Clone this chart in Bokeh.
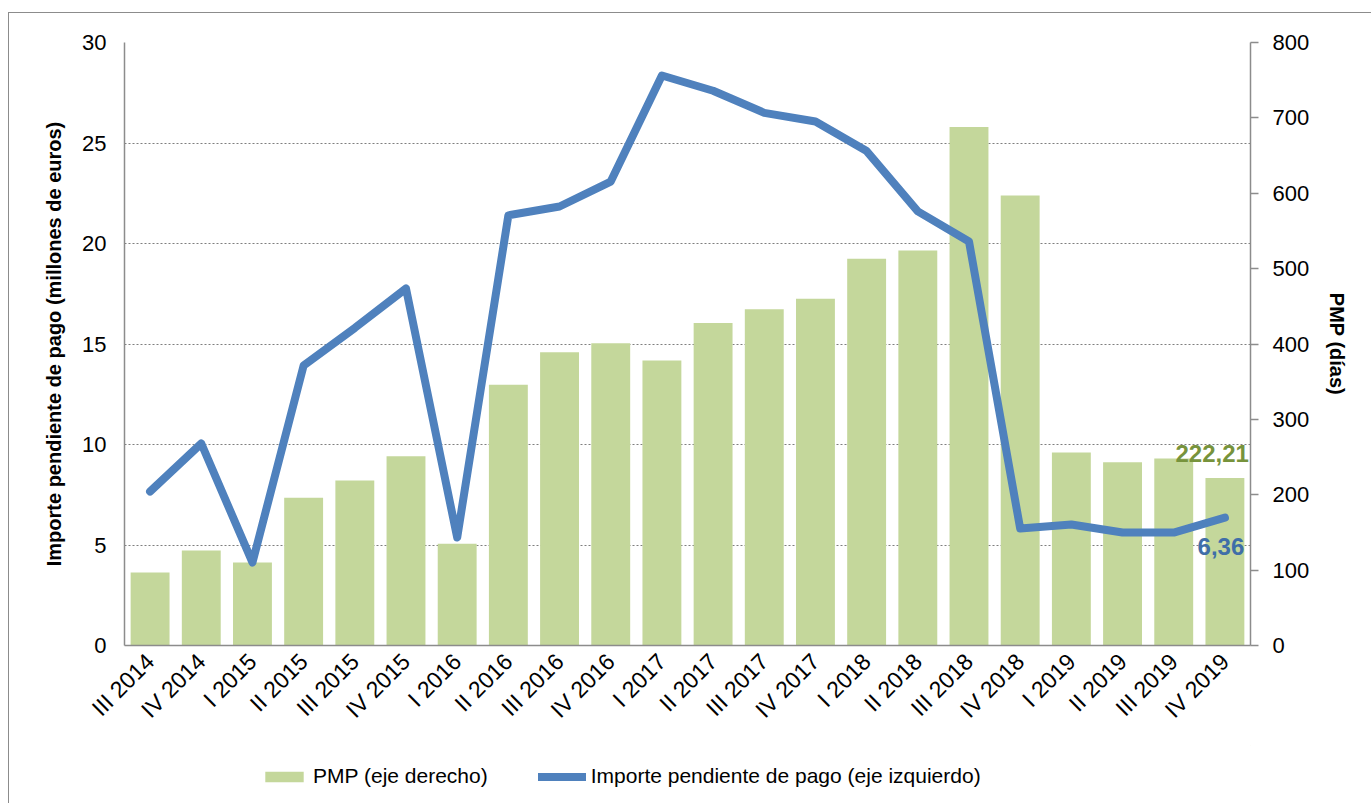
import math
from bokeh.plotting import figure
from bokeh.layouts import column
from bokeh.models import (Range1d, LinearAxis, FactorRange, Legend, LegendItem,
                          ColumnDataSource, FixedTicker)
from bokeh.core.properties import value
from bokeh.embed import file_html
from bokeh.resources import INLINE

quarters = ["III 2014", "IV 2014", "I 2015", "II 2015", "III 2015", "IV 2015",
            "I 2016", "II 2016", "III 2016", "IV 2016", "I 2017", "II 2017",
            "III 2017", "IV 2017", "I 2018", "II 2018", "III 2018", "IV 2018",
            "I 2019", "II 2019", "III 2019", "IV 2019"]
pmp_days = [97, 126, 110, 196, 219, 251, 135, 346, 389, 401, 378, 428,
            446, 460, 513, 524, 688, 597, 256, 243, 248, 222.21]
importe_meur = [7.66, 10.05, 4.13, 13.93, 15.8, 17.76, 5.37, 21.4, 21.84, 23.08,
                28.36, 27.6, 26.5, 26.07, 24.6, 21.6, 20.1, 5.82, 6.02, 5.62,
                5.62, 6.36]
legend_labels = ["PMP (eje derecho)", "Importe pendiente de pago (eje izquierdo)"]

FONT = "Liberation Sans"
BAR_C = "#C4D79B"
LINE_C = "#4F81BD"
AXIS_C = "#8C8C8C"

# page offsets (border at x=8, y=12 in the reference)
OX, OY = 9, 13
W, H = 1371 - OX, 745 - OY
p = figure(width=W, height=H, x_range=FactorRange(*quarters, range_padding=0.0),
           y_range=Range1d(0, 30), output_backend="svg", toolbar_location=None,
           min_border_left=124 - OX, min_border_right=W + OX - 1250,
           min_border_top=42 - OY, min_border_bottom=H + OY - 645)
p.outline_line_color = None
p.x_range.factor_padding = 0.0
p.extra_y_ranges = {"pmp": Range1d(0, 800)}

src = ColumnDataSource(dict(q=quarters, pmp=pmp_days, imp=importe_meur))

bars = p.vbar(x="q", top="pmp", width=0.76, source=src, y_range_name="pmp",
              fill_color=BAR_C, line_color=None)
line = p.line(x="q", y="imp", source=src, line_color=LINE_C, line_width=8,
              line_cap="round", line_join="round")

# last-value labels
last_q = quarters[-1]
p.text(x=[last_q], y=[pmp_days[-1]], text=[f"{pmp_days[-1]:.2f}".replace(".", ",")],
       y_range_name="pmp", text_font=value(FONT), text_font_size="24px",
       text_font_style="bold", text_color="#77933C", text_align="right",
       text_baseline="bottom", y_offset=-16, x_offset=24)
p.text(x=[last_q], y=[importe_meur[-1]], text=[f"{importe_meur[-1]:.2f}".replace(".", ",")],
       text_font=value(FONT), text_font_size="24px",
       text_font_style="bold", text_color="#3F6EA8", text_align="center",
       text_baseline="top", y_offset=20, x_offset=-4)

# left axis
ly = p.yaxis[0]
ly.ticker = FixedTicker(ticks=[0, 5, 10, 15, 20, 25, 30])
ly.axis_label = "Importe pendiente de pago (millones de euros)"
ly.axis_label_text_font = FONT
ly.axis_label_text_font_style = "bold"
ly.axis_label_text_font_size = "20px"
ly.axis_label_text_color = "black"
ly.axis_label_standoff = 14
ly.major_label_text_font = FONT
ly.major_label_text_font_size = "22px"
ly.major_label_text_color = "black"
ly.major_label_standoff = 18
ly.major_tick_out = 0
ly.major_tick_in = 0
ly.minor_tick_out = 0
ly.minor_tick_in = 0
ly.axis_line_color = AXIS_C
ly.axis_line_width = 1.5

# right axis
ry = LinearAxis(y_range_name="pmp", ticker=FixedTicker(ticks=list(range(0, 801, 100))))
ry.axis_label = "PMP (días)"
ry.axis_label_text_font = FONT
ry.axis_label_text_font_style = "bold"
ry.axis_label_text_font_size = "20px"
ry.axis_label_text_color = "black"
ry.axis_label_standoff = 14
ry.major_label_text_font = FONT
ry.major_label_text_font_size = "22px"
ry.major_label_text_color = "black"
ry.major_label_standoff = 14
ry.major_tick_out = 8
ry.major_tick_in = 0
ry.minor_tick_out = 0
ry.minor_tick_in = 0
ry.major_tick_line_color = AXIS_C
ry.major_tick_line_width = 1.5
ry.axis_line_color = AXIS_C
ry.axis_line_width = 1.5
p.add_layout(ry, "right")

# bottom axis
bx = p.xaxis[0]
bx.major_label_orientation = math.pi / 4
bx.major_label_text_font = FONT
bx.major_label_text_font_size = "23px"
bx.major_label_text_color = "black"
bx.major_label_standoff = 12
bx.major_tick_out = 0
bx.major_tick_in = 0
bx.axis_line_color = AXIS_C
bx.axis_line_width = 1.5

# grid
p.xgrid.grid_line_color = None
p.ygrid.grid_line_color = "#7F7F7F"
p.ygrid.grid_line_dash = "2 2"
p.ygrid.grid_line_width = 1
p.ygrid.ticker = ly.ticker

# legend strip (separate figure below the chart, no axes)
lg = figure(width=W, height=58, x_range=Range1d(0, 1), y_range=Range1d(0, 1),
            output_backend="svg", toolbar_location=None,
            x_axis_location=None, y_axis_location=None,
            min_border=0, min_border_left=0, min_border_right=0,
            min_border_top=0, min_border_bottom=0)
lg.grid.visible = False
lg.outline_line_color = None
# off-screen proxies so the legend can draw its swatches
lb = lg.vbar(x=[5], top=[5], bottom=[4], width=0.5, fill_color=BAR_C, line_color=None)
ll = lg.line(x=[5, 6], y=[5, 5], line_color=LINE_C, line_width=8, line_cap="round")
legend = Legend(items=[LegendItem(label=legend_labels[0], renderers=[lb]),
                       LegendItem(label=legend_labels[1], renderers=[ll])],
                orientation="horizontal", location=(136, 15),
                label_text_font=FONT, label_text_font_size="21px", label_text_color="black",
                glyph_width=48, glyph_height=13, label_standoff=5, spacing=50,
                border_line_color=None, background_fill_alpha=0, margin=0, padding=5)
lg.add_layout(legend, "center")

layout = column(p, lg, spacing=0,
                styles={"border-left": "1px solid #8C8C8C", "border-top": "1px solid #8C8C8C",
                        "margin-left": "8px", "margin-top": "12px"})
open("out.html", "w").write(file_html(layout, INLINE))
